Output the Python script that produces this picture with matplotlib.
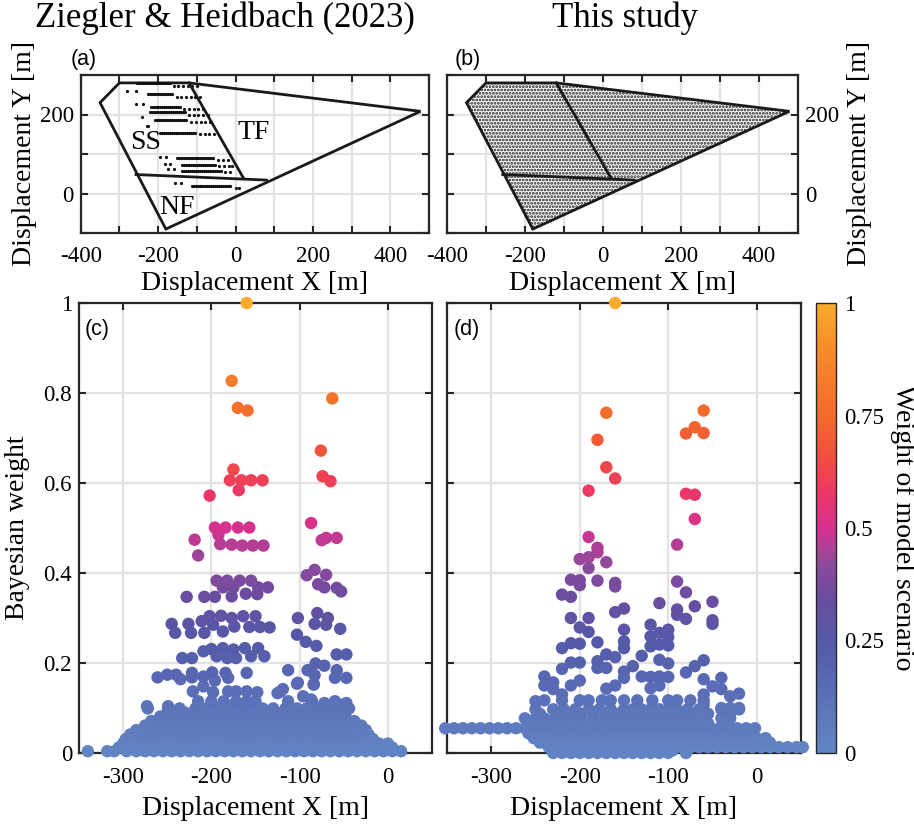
import numpy as np
import matplotlib
matplotlib.use('Agg')
import matplotlib.pyplot as plt
from matplotlib.colors import LinearSegmentedColormap, Normalize
from matplotlib.patches import Polygon
import matplotlib.cm as cm

plt.rcParams['font.family'] = ['Liberation Serif', 'DejaVu Serif']
plt.rcParams['axes.unicode_minus'] = False
plt.rcParams['hatch.linewidth'] = 1.35

# ---------------- fault-geometry (panels a, b) ----------------
outline_x = [-350, -300, -120, 478, -180]
outline_y = [230, 280, 280, 208, -90]
tf_line_x = [-120, 20]
tf_line_y = [280, 40]
nf_line_x = [-257, 80]
nf_line_y = [48, 34]

# model-point rows in panel (a): (x list, y)
a_rows = [
    ([-255, -250, -245, -240, -235, -230, -225, -220, -215, -210, -205, -200, -195, -190, -185, -180, -175, -170], 281),
    ([-160, -148, -136, -124, -112, -100], 272),
    ([-280, -256], 259),
    ([-225, -220, -215, -210, -205, -200, -195, -190, -185, -180, -175, -170, -165], 253),
    ([-152, -140, -128, -116, -104, -92], 244),
    ([-258, -240], 226),
    ([-219, -214, -209, -204, -199, -194, -189, -184, -179, -174, -169, -164, -159, -154, -149, -144], 219),
    ([-132, -120, -108, -96, -84], 214),
    ([-221, -216, -211, -206, -201, -196, -191, -186, -181, -176, -171, -166, -161, -156, -151, -146, -141, -136, -131], 206),
    ([-120, -108, -96, -84, -72], 200),
    ([-242], 193),
    ([-208, -203, -198, -193, -188, -183, -178, -173, -168, -163, -158, -153, -148, -143, -138, -133, -128], 185),
    ([-114, -102, -90, -78, -66], 180),
    ([-229, -227], 170),
    ([-195, -190, -185, -180, -175, -170, -165, -160, -155, -150, -145, -140, -135, -130, -125, -120, -115, -110, -105], 153),
    ([-92, -80, -68, -56], 150),
    ([-195, -180], 92),
    ([-152, -147, -142, -137, -132, -127, -122, -117, -112, -107, -102, -97, -92, -87, -82, -77, -72, -67, -62, -57], 89),
    ([-44, -32, -20], 86),
    ([-182, -168], 75),
    ([-139, -134, -129, -124, -119, -114, -109, -104, -99, -94, -89, -84, -79, -74, -69, -64, -59, -54], 73),
    ([-42, -30, -18, -8], 70),
    ([-174, -160], 61),
    ([-137, -132, -127, -122, -117, -112, -107, -102, -97, -92, -87, -82, -77, -72, -67, -62, -57, -52, -47, -42, -37], 57),
    ([-26, -14], 55),
    ([-156, -140], 27),
    ([-113, -108, -103, -98, -93, -88, -83, -78, -73, -68, -63, -58, -53, -48, -43, -38, -33, -28, -23, -18, -13], 20),
    ([0, 8], 15),
]

# ---------------- Bayesian weights, panel (c) ----------------
c_hi = [
    (-160, 1.0), (-177, 0.827), (-170, 0.767), (-159, 0.761), (-63, 0.788), (-76, 0.672),
    (-74, 0.615), (-65, 0.604), (-175, 0.63), (-179, 0.606), (-166, 0.606), (-155, 0.606),
    (-142, 0.606), (-169, 0.584), (-202, 0.572), (-87, 0.511), (-196, 0.501), (-184, 0.501),
    (-170, 0.501), (-157, 0.501), (-192, 0.485), (-190, 0.464), (-177, 0.463), (-165, 0.461),
    (-153, 0.461), (-141, 0.461), (-219, 0.474), (-215, 0.439), (-75, 0.473), (-70, 0.478),
    (-58, 0.478), (-92, 0.395), (-83, 0.407), (-70, 0.396), (-79, 0.375), (-72, 0.368),
    (-58, 0.367), (-53, 0.359), (-228, 0.347), (-208, 0.347), (-196, 0.347),
    (-194, 0.383), (-182, 0.383), (-168, 0.383), (-155, 0.383), (-187, 0.368), (-175, 0.368),
    (-147, 0.368), (-136, 0.368), (-177, 0.348), (-161, 0.354), (-148, 0.353),
    (-245, 0.287), (-226, 0.287), (-241, 0.267), (-223, 0.267), (-208, 0.267), (-211, 0.293),
    (-202, 0.304), (-189, 0.305), (-177, 0.300), (-164, 0.304), (-150, 0.304), (-198, 0.285),
    (-187, 0.270), (-174, 0.281), (-157, 0.280), (-145, 0.280), (-134, 0.279), (-102, 0.300),
    (-80, 0.311), (-83, 0.287), (-68, 0.300), (-70, 0.285), (-54, 0.276), (-103, 0.263),
    (-93, 0.247), (-81, 0.238),
    (-233, 0.211), (-222, 0.211), (-209, 0.226), (-200, 0.231), (-194, 0.215), (-187, 0.233),
    (-175, 0.230), (-182, 0.211), (-172, 0.211), (-162, 0.233), (-155, 0.215), (-147, 0.233),
    (-140, 0.215), (-82, 0.199), (-72, 0.194), (-58, 0.219), (-47, 0.219),
    (-261, 0.168), (-250, 0.174), (-240, 0.174), (-235, 0.164), (-222, 0.178), (-222, 0.168),
    (-209, 0.170), (-199, 0.179), (-196, 0.161), (-184, 0.178), (-181, 0.167), (-160, 0.178),
    (-113, 0.184), (-91, 0.184), (-58, 0.184), (-60, 0.167), (-47, 0.167), (-103, 0.154),
    (-83, 0.173), (-84, 0.152),
    (-221, 0.137), (-209, 0.148), (-198, 0.135), (-181, 0.137), (-172, 0.137), (-160, 0.137),
    (-148, 0.135), (-125, 0.133), (-119, 0.142), (-96, 0.126), (-87, 0.119), (-273, 0.104),
    (-249, 0.104), (-72, 0.111), (-47, 0.111), (-53, 0.107), (-122, 0.136), (-102, 0.156),
    (-84, 0.153),
]
c_low_rows = [
    ([-340, -318, -310, -296, -285, -275, -265, -255, -245, -235, -225, -215, -205, -195, -185,
      -175, -165, -155, -145, -135, -125, -115, -105, -95, -85, -75, -65, -55, -45, -35, -25,
      -15, -5, 5, 15], 0.004),
    ([-305, -295, -285, -275, -265, -255, -245, -235, -225, -215, -205, -195, -185, -175, -165,
      -155, -145, -135, -125, -115, -105, -95, -85, -75, -65, -55, -45, -35, -25, -15, -5, 5], 0.012),
    ([-300, -290, -280, -270, -260, -250, -240, -230, -220, -210, -200, -190, -180, -170, -160,
      -150, -140, -130, -120, -110, -100, -90, -80, -70, -60, -50, -40, -30, -20, -10, 0], 0.021),
    ([-297, -287, -277, -267, -257, -247, -237, -227, -217, -207, -197, -187, -177, -167, -157,
      -147, -137, -127, -117, -107, -97, -87, -77, -67, -57, -47, -37, -27, -17], 0.031),
    ([-292, -282, -272, -262, -252, -242, -232, -222, -212, -202, -192, -182, -172, -162, -152,
      -142, -132, -122, -112, -102, -92, -82, -72, -62, -52, -42, -32, -22], 0.041),
    ([-285, -275, -265, -255, -245, -235, -225, -215, -205, -195, -185, -175, -165, -155, -145,
      -135, -125, -115, -105, -95, -85, -75, -65, -55, -45, -35, -25], 0.051),
    ([-275, -262, -250, -240, -228, -218, -206, -196, -186, -176, -166, -156, -146, -136, -126,
      -116, -106, -96, -86, -76, -66, -56, -46, -30], 0.061),
    ([-268, -256, -245, -233, -222, -211, -200, -189, -178, -167, -157, -147, -137, -127, -117,
      -107, -97, -87, -77, -67, -57, -47, -38], 0.071),
    ([-258, -240, -225, -214, -203, -192, -181, -170, -160, -150, -140, -130, -120, -110, -100,
      -90, -80, -70, -60, -48], 0.081),
    ([-250, -230, -210, -198, -186, -174, -163, -152, -141, -130, -119, -108, -97, -86, -74,
      -62, -50], 0.09),
    ([-272, -249, -236, -218, -205, -193, -180, -168, -155, -142, -130, -116, -103, -92, -80,
      -68, -55, -44], 0.099),
    ([-215, -200, -186, -172, -160, -150, -113, -86, -60], 0.115),
]

# ---------------- Bayesian weights, panel (d) ----------------
d_hi = [
    (-160, 1.0), (-170, 0.756), (-180, 0.696), (-170, 0.635), (-160, 0.610), (-190, 0.583),
    (-60, 0.761), (-70, 0.724), (-80, 0.710), (-60, 0.711), (-80, 0.576), (-70, 0.574),
    (-70, 0.520), (-90, 0.463), (-190, 0.480), (-180, 0.456), (-180, 0.446), (-200, 0.431),
    (-190, 0.435), (-190, 0.411), (-170, 0.424), (-210, 0.385), (-200, 0.384), (-200, 0.373),
    (-180, 0.383), (-160, 0.378), (-160, 0.370), (-220, 0.352), (-210, 0.347), (-90, 0.381),
    (-80, 0.357), (-70, 0.326), (-50, 0.336), (-50, 0.295), (-50, 0.287), (-110, 0.333),
    (-90, 0.319), (-90, 0.307), (-80, 0.298), (-160, 0.313), (-150, 0.321), (-210, 0.300),
    (-190, 0.300), (-200, 0.279), (-190, 0.269), (-150, 0.274), (-120, 0.285), (-120, 0.259),
    (-110, 0.267), (-100, 0.274), (-100, 0.258), (-220, 0.233), (-210, 0.244), (-200, 0.243),
    (-180, 0.246), (-150, 0.248), (-150, 0.233), (-120, 0.237), (-110, 0.241), (-100, 0.239),
    (-170, 0.219), (-160, 0.213), (-180, 0.204), (-210, 0.201), (-200, 0.201), (-180, 0.189),
    (-170, 0.189), (-220, 0.187), (-130, 0.216), (-110, 0.207), (-100, 0.199), (-140, 0.193),
    (-60, 0.206), (-70, 0.193), (-80, 0.179), (-150, 0.181), (-150, 0.167), (-130, 0.170),
    (-120, 0.169), (-110, 0.170), (-100, 0.169), (-60, 0.164), (-40, 0.167), (-240, 0.170),
    (-240, 0.150), (-230, 0.157), (-230, 0.142), (-210, 0.150), (-200, 0.161), (-170, 0.143),
    (-160, 0.150), (-120, 0.144), (-110, 0.150), (-50, 0.148), (-40, 0.142), (-30, 0.126),
    (-20, 0.132), (-60, 0.130), (-60, 0.107), (-30, 0.100), (-20, 0.100), (-40, 0.100),
    (-250, 0.115), (-220, 0.130),
]
d_low_rows = [
    ([-230, -220, -210, -200, -190, -180, -170, -160, -150, -140, -130, -120, -110, -100, -80], 0.0),
    ([-225, -215, -205, -195, -185, -175, -165, -155, -145, -135, -125, -115, -105, -95], 0.006),
    ([-235, -225, -215, -205, -195, -185, -175, -165, -155, -145, -135, -125, -115, -105, -95,
      -85, -75, -65, -55, -45, -35, -25, -15, -5, 5, 15, 25, 35, 45, 52], 0.013),
    ([-245, -235, -225, -215, -205, -195, -185, -175, -165, -155, -145, -135, -125, -115, -105,
      -95, -85, -75, -65, -55, -45, -35, -25, -15, -5, 5, 15], 0.023),
    ([-252, -240, -230, -220, -210, -200, -190, -180, -170, -160, -150, -140, -130, -120, -110,
      -100, -90, -80, -70, -60, -50, -40, -30, -20, -10, 0, 10], 0.033),
    ([-258, -248, -238, -228, -218, -208, -198, -188, -178, -168, -158, -148, -138, -128, -118,
      -108, -98, -88, -78, -68, -58, -48, -38, -28, -18, -8], 0.044),
    ([-352, -342, -332, -322, -312, -302, -292, -282, -272, -262, -252, -242, -232, -222, -212,
      -202, -192, -182, -172, -162, -152, -142, -132, -122, -112, -102, -92, -82, -72, -62, -52,
      -42, -32, -22, -12, -2], 0.055),
    ([-255, -245, -235, -222, -208, -195, -180, -165, -155, -145, -135, -125, -115, -105, -95,
      -85, -75, -65, -55, -35], 0.066),
    ([-262, -250, -240, -228, -215, -200, -185, -170, -160, -150, -140, -130, -120, -110, -100,
      -90, -80, -70, -60, -40, -30], 0.077),
    ([-245, -225, -212, -198, -184, -172, -158, -145, -135, -125, -115, -105, -95, -84, -72,
      -55, -30], 0.087),
    ([-250, -230, -218, -205, -190, -178, -165, -150, -140, -130, -120, -110, -100, -90, -78,
      -65, -40, -20], 0.097),
    ([-240, -220, -200, -190, -175, -165, -150, -135, -118, -100, -90, -75, -60], 0.117),
]

# colour scale of the weights
cmap_nodes = [0.0, 0.12, 0.25, 0.35, 0.42, 0.5, 0.58, 0.66, 0.75, 0.9, 1.0]
cmap_colors = ['#6185c4', '#5b70b8', '#5459a8', '#6b4ca0', '#8e4a9c', '#d6318f',
               '#ec3866', '#f14f3e', '#f36b2b', '#f68b2a', '#f9ab2c']
cmap = LinearSegmentedColormap.from_list('w', list(zip(cmap_nodes, cmap_colors)))
norm = Normalize(0, 1)

# ---------------- figure ----------------
W, H = 914, 824
fig = plt.figure(figsize=(W / 100, H / 100), dpi=100)

def fax(l, t, r, b):
    return fig.add_axes([l / W, 1 - b / H, (r - l) / W, (b - t) / H])

ax_a = fax(80.7, 75, 429, 233)
ax_b = fax(447, 75, 798, 233)
ax_c = fax(79, 303, 432, 753)
ax_d = fax(447, 303, 801, 753)
cax = fax(816, 303, 836, 753)

spine_c = '#262626'
grid_c = '#e2e2e2'
TICK = 16.5
LAB = 20

def style(ax):
    for s in ax.spines.values():
        s.set_linewidth(1.6)
        s.set_color(spine_c)
    ax.grid(True, color=grid_c, linewidth=1.6)
    ax.set_axisbelow(True)
    ax.tick_params(direction='in', length=5, width=1.5, top=True, right=True,
                   labelsize=TICK, colors=spine_c, labelcolor='black')

xt_top = [-400, -300, -200, -100, 0, 100, 200, 300, 400, 500]
xt_top_lab = ['-400', '', '-200', '', '0', '', '200', '', '400', '']
yt_top = [-100, 0, 100, 200, 300]
yt_top_lab = ['', '0', '', '200', '']

for ax in (ax_a, ax_b):
    style(ax)
    ax.set_xlim(-400, 500)
    ax.set_ylim(-100, 300)
    ax.set_xticks(xt_top)
    ax.set_xticklabels(xt_top_lab)
    ax.set_yticks(yt_top)
    ax.set_yticklabels(yt_top_lab)
    ax.tick_params(axis='x', pad=9)
    ax.set_xlabel('Displacement X [m]', fontsize=LAB, labelpad=3)

# panel (a)
ax_a.add_patch(Polygon(list(zip(outline_x, outline_y)), closed=True, fill=False,
                       edgecolor='#1a1a1a', linewidth=2.0, zorder=3))
ax_a.plot(tf_line_x, tf_line_y, color='#1a1a1a', linewidth=2.0, zorder=3)
ax_a.plot(nf_line_x, nf_line_y, color='#1a1a1a', linewidth=2.0, zorder=3)
for xs, yv in a_rows:
    ax_a.plot(xs, [yv] * len(xs), 'o', color='#111111', markersize=2.3,
              markeredgewidth=0, zorder=4)
ax_a.text(-231, 128, 'SS', fontsize=20, ha='center', va='center')
ax_a.text(46, 154, 'TF', fontsize=20, ha='center', va='center')
ax_a.text(-151, -36, 'NF', fontsize=20, ha='center', va='center')
ax_a.set_ylabel('Displacement Y [m]', fontsize=LAB, labelpad=2)
ax_a.tick_params(axis='y', pad=5)

# panel (b)
ax_b.add_patch(Polygon(list(zip(outline_x, outline_y)), closed=True, facecolor='white',
                       edgecolor='#1a1a1a', hatch='.....', linewidth=2.0, zorder=3))
ax_b.plot(tf_line_x, tf_line_y, color='#1a1a1a', linewidth=2.0, zorder=4)
ax_b.plot(nf_line_x, nf_line_y, color='#1a1a1a', linewidth=2.0, zorder=4)
ax_b.tick_params(axis='y', labelleft=False, labelright=True, pad=5)
ax_b.yaxis.set_label_position('right')
ax_b.set_ylabel('Displacement Y [m]', fontsize=LAB, labelpad=6)

# panels (c) and (d)
def weights_scatter(ax, low_rows, hi):
    xs, ys = [], []
    for rx, ry in low_rows:
        xs += list(rx)
        ys += [ry] * len(rx)
    order = np.argsort([p[1] for p in hi])
    xs += [hi[i][0] for i in order]
    ys += [hi[i][1] for i in order]
    ax.scatter(xs, ys, c=ys, cmap=cmap, norm=norm, s=80, linewidths=0,
               clip_on=False, zorder=3)

for ax in (ax_c, ax_d):
    style(ax)
    ax.set_xlim(-350, 50)
    ax.set_ylim(0, 1)
    ax.set_xticks([-300, -200, -100, 0])
    ax.set_xticklabels(['-300', '-200', '-100', '0'])
    ax.set_yticks([0, 0.2, 0.4, 0.6, 0.8, 1.0])
    ax.tick_params(axis='x', pad=10)
    ax.set_xlabel('Displacement X [m]', fontsize=LAB, labelpad=6)

ax_c.set_yticklabels(['0', '0.2', '0.4', '0.6', '0.8', '1'])
ax_c.tick_params(axis='y', pad=5)
ax_c.set_ylabel('Bayesian weight', fontsize=LAB, labelpad=10)
ax_d.set_yticklabels([])

weights_scatter(ax_c, c_low_rows, c_hi)
weights_scatter(ax_d, d_low_rows, d_hi)

# colourbar
sm = cm.ScalarMappable(norm=norm, cmap=cmap)
cb = fig.colorbar(sm, cax=cax)
cb.set_ticks([0, 0.25, 0.5, 0.75, 1])
cb.set_ticklabels(['0', '0.25', '0.5', '0.75', '1'])
cb.outline.set_linewidth(1.0)
cb.outline.set_edgecolor(spine_c)
cax.tick_params(length=0, labelsize=TICK, pad=6)
cb.set_label('Weight of model scenario', fontsize=LAB, rotation=270, labelpad=22)

# titles and panel letters
fig.text(225 / W, 1 - 18 / H, 'Ziegler & Heidbach (2023)', fontsize=25, ha='center', va='center')
fig.text(625 / W, 1 - 18 / H, 'This study', fontsize=25, ha='center', va='center')
sans = ['Liberation Sans', 'DejaVu Sans']
fig.text(84 / W, 1 - 60 / H, '(a)', fontsize=15.5, family=sans, ha='center', va='center')
fig.text(468 / W, 1 - 60 / H, '(b)', fontsize=15.5, family=sans, ha='center', va='center')
fig.text(97 / W, 1 - 330 / H, '(c)', fontsize=15.5, family=sans, ha='center', va='center')
fig.text(467 / W, 1 - 330 / H, '(d)', fontsize=15.5, family=sans, ha='center', va='center')

fig.savefig('out.png', dpi=100)
